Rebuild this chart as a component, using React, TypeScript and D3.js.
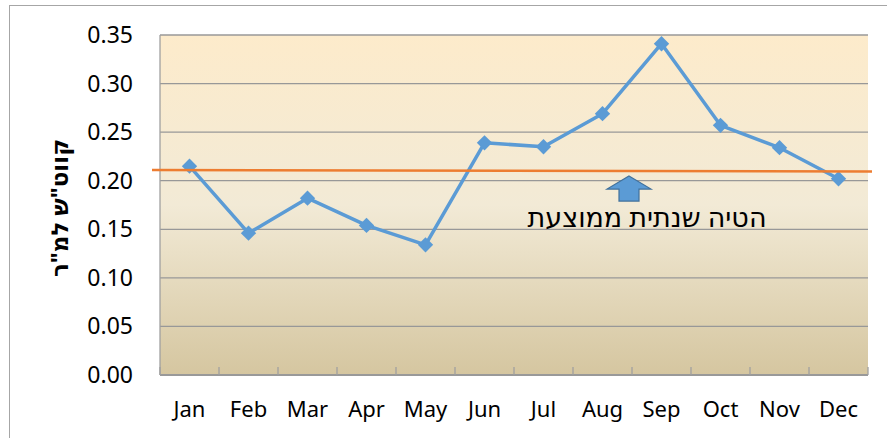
import React from "react";
import * as d3 from "d3";

const months = ["Jan", "Feb", "Mar", "Apr", "May", "Jun", "Jul", "Aug", "Sep", "Oct", "Nov", "Dec"];
const values = [0.215, 0.146, 0.182, 0.154, 0.134, 0.239, 0.235, 0.269, 0.341, 0.257, 0.234, 0.202];
const yTicks = [0, 0.05, 0.1, 0.15, 0.2, 0.25, 0.3, 0.35];
const averageLine = [0.211, 0.2095];
const yTitle = "קווט\"ש למ\"ר";
const annotation = "הטיה שנתית ממוצעת";

export default function App() {
  const W = 887, H = 438;
  const left = 160, right = 868, top = 35, bottom = 375;
  const x = d3.scaleBand<string>().domain(months).range([left, right]);
  const y = d3.scaleLinear().domain([0, 0.35]).range([bottom, top]);
  const cx = (m: string) => (x(m) as number) + x.bandwidth() / 2;
  const line = d3.line<number>().x((_, i) => cx(months[i])).y((v) => y(v));
  const diamond = d3.symbol().type(d3.symbolDiamond2).size(150)();
  const avgX0 = left - 8, avgX1 = right + 4;
  const font = "'Noto Sans', 'DejaVu Sans', sans-serif";
  const arrowX = 629;
  const arrowTop = y(averageLine[0]) + 6;
  return (
    <svg width={W} height={H} style={{ position: "absolute", left: 0, top: 0, background: "#fff" }}>
      <defs>
        <linearGradient id="bg" x1="0" y1="0" x2="0" y2="1">
          <stop offset="0%" stopColor="#FDEBCB" />
          <stop offset="50%" stopColor="#F2EAD6" />
          <stop offset="100%" stopColor="#D5C6A0" />
        </linearGradient>
      </defs>
      <rect x={9.5} y={5.5} width={W} height={H} fill="#fff" stroke="#A6A6A6" strokeWidth={1} />
      <rect x={left} y={top} width={right - left} height={bottom - top} fill="url(#bg)" />
      {yTicks.map((t) => (
        <line key={t} x1={left} x2={right} y1={y(t)} y2={y(t)} stroke="#989898" strokeWidth={1.3} />
      ))}
      <line x1={left} x2={left} y1={top} y2={bottom} stroke="#A0A0A0" strokeWidth={1.3} />
      <line x1={left} x2={right} y1={bottom} y2={bottom} stroke="#999" strokeWidth={2} />
      {months.map((m) => (
        <line key={m} x1={x(m) as number} x2={x(m) as number} y1={bottom} y2={bottom - 8} stroke="#A0A0A0" strokeWidth={1.3} />
      ))}
      <line x1={right} x2={right} y1={bottom} y2={bottom - 8} stroke="#A0A0A0" strokeWidth={1.3} />
      {yTicks.map((t) => (
        <text key={t} x={133} y={y(t)} dy="0.35em" textAnchor="end" fontFamily={font} fontSize={23} fill="#000">
          {t.toFixed(2)}
        </text>
      ))}
      {months.map((m) => (
        <text key={m} x={cx(m)} y={417} textAnchor="middle" fontFamily={font} fontSize={22} fill="#000">
          {m}
        </text>
      ))}
      <text
        transform={`translate(68, ${(top + bottom) / 2 + 3}) rotate(-90)`}
        textAnchor="middle"
        fontFamily={font}
        fontSize={23}
        fontWeight="bold"
        direction="rtl"
        fill="#000"
      >
        {yTitle}
      </text>
      <path d={line(values) || ""} fill="none" stroke="#5B9BD5" strokeWidth={3.5} strokeLinejoin="round" />
      {values.map((v, i) => (
        <path key={i} d={diamond || ""} transform={`translate(${cx(months[i])},${y(v)})`} fill="#5B9BD5" />
      ))}
      <line x1={avgX0} x2={avgX1} y1={y(averageLine[0])} y2={y(averageLine[1])} stroke="#ED7D31" strokeWidth={2.5} />
      <path
        d={`M${arrowX},${arrowTop} L${arrowX + 22},${arrowTop + 13} L${arrowX + 10},${arrowTop + 13} L${arrowX + 10},${arrowTop + 25} L${arrowX - 10},${arrowTop + 25} L${arrowX - 10},${arrowTop + 13} L${arrowX - 22},${arrowTop + 13} Z`}
        fill="#5B9BD5"
        stroke="#41719C"
        strokeWidth={1.2}
      />
      <text x={647} y={227} textAnchor="middle" direction="rtl" fontFamily={font} fontSize={27} fill="#000">
        {annotation}
      </text>
    </svg>
  );
}
